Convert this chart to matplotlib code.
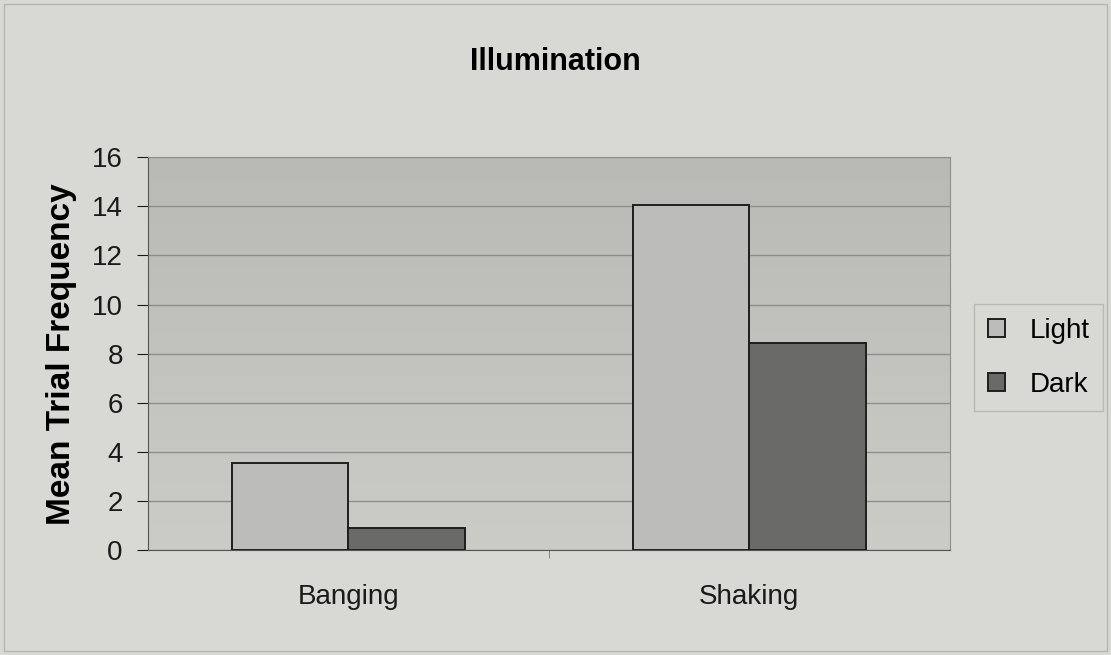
import numpy as np
import matplotlib.pyplot as plt
from matplotlib.patches import Rectangle
from matplotlib.colors import LinearSegmentedColormap

plt.rcParams['font.family'] = ['Liberation Sans', 'DejaVu Sans']

# données
categories = ['Banging', 'Shaking']
series = ['Light', 'Dark']
light = [3.55, 14.05]
dark = [0.9, 8.45]
yticks = [0, 2, 4, 6, 8, 10, 12, 14, 16]

fig = plt.figure(figsize=(11.11, 6.55), dpi=100, facecolor='#d8d9d5')
ax = fig.add_axes([0.133, 0.160, 0.722, 0.600])

# fond dégradé de la zone de tracé (plus sombre en haut)
grad = LinearSegmentedColormap.from_list('fond', ['#cbccc8', '#b9bab6'])
ax.imshow(np.linspace(0, 1, 100).reshape(-1, 1), cmap=grad, aspect='auto',
          extent=(-0.5, 1.5, 0, 16), origin='lower', zorder=0)

x = np.arange(len(categories))
w = 0.29
ax.bar(x - w/2, light, w, color='#bcbdba', edgecolor='#1e1e1e', linewidth=1.4, label=series[0], zorder=3)
ax.bar(x + w/2, dark, w, color='#6a6b69', edgecolor='#1e1e1e', linewidth=1.4, label=series[1], zorder=3)

ax.set_xlim(-0.5, 1.5)
ax.set_ylim(0, 16)
ax.set_yticks(yticks)
ax.set_xticks(x)
ax.set_xticklabels(categories)
ax.set_xticks([0.5], minor=True)
ax.yaxis.grid(True, color='#8e8f8c', linewidth=1.0, zorder=1)
ax.tick_params(axis='both', labelsize=20, colors='#1a1a1a', length=8, width=0.8)
ax.tick_params(axis='x', which='major', length=0, pad=24)
ax.tick_params(axis='x', which='minor', length=6, color='#777777')
ax.tick_params(axis='y', pad=10)
for s in ['top', 'right']:
    ax.spines[s].set_color('#8e8f8c')
for s in ['left', 'bottom']:
    ax.spines[s].set_color('#555555')

ax.set_ylabel('Mean Trial Frequency', fontsize=24, fontweight='bold')
ax.yaxis.set_label_coords(-0.088, 0.5)
fig.text(0.5, 0.905, 'Illumination', ha='center', va='center', fontsize=22, fontweight='bold')

leg = ax.legend(loc='center left', bbox_to_anchor=(1.03, 0.49), fontsize=20, frameon=True,
                fancybox=False, edgecolor='#b0b0ad', facecolor='#d8d9d5', handlelength=0.6,
                handleheight=0.6, handletextpad=0.9, labelspacing=1.0, borderpad=0.5,
                borderaxespad=0)

# cadre du graphique
fig.patches.append(Rectangle((0.004, 0.006), 0.992, 0.988, transform=fig.transFigure,
                             fill=False, edgecolor='#b5b6b2', linewidth=1.0))

plt.savefig('out.png', dpi=100, facecolor=fig.get_facecolor())
